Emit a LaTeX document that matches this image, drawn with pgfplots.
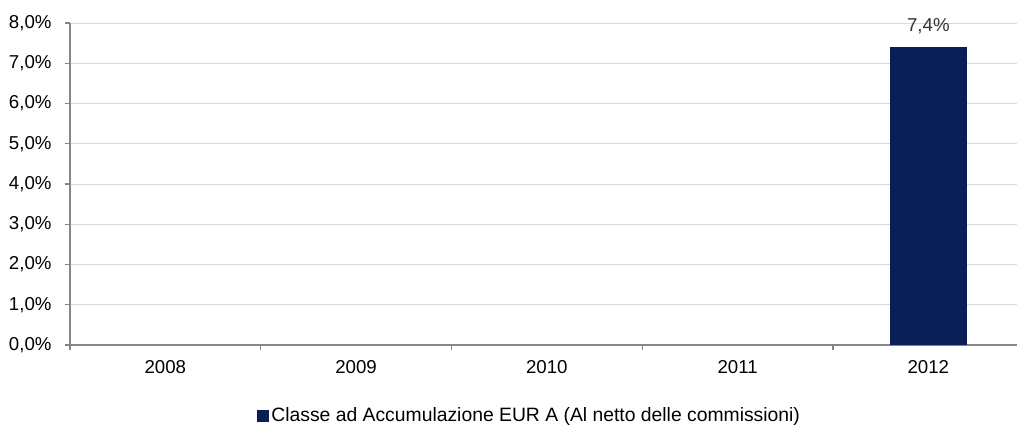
\documentclass[border=0pt]{standalone}
\usepackage{pgfplots}
\pgfplotsset{compat=1.18}
\usepackage{fontspec}
\setmainfont{Liberation Sans}
\definecolor{barblue}{HTML}{0A1F55}
\definecolor{axgrey}{HTML}{868686}
\definecolor{gridgrey}{HTML}{D9D9D9}
\begin{document}
\fontsize{14}{16}\selectfont
\begin{tikzpicture}
\path[use as bounding box] (0,0) rectangle (762.75pt,318.75pt);
\begin{axis}[
  at={(52.5pt,60pt)}, anchor=south west,
  scale only axis, width=715.3pt, height=241.5pt,
  xmin=-0.5, xmax=4.5, ymin=0, ymax=8,
  ytick={0,1,...,8},
  xtick={0,1,2,3,4},
  xticklabels={2008,2009,2010,2011,2012},
  minor xtick={-0.5,0.5,1.5,2.5,3.5,4.5},
  major x tick style={draw=none},
  minor x tick style={draw=axgrey, line width=0.8pt},
  y tick style={draw=axgrey, line width=0.8pt},
  tick align=outside,
  major tick length=4pt,
  minor tick length=4pt,
  axis x line*=bottom, axis y line*=left,
  axis line style={draw=axgrey, line width=1pt, -},
  ymajorgrids, grid style={draw=gridgrey, line width=0.6pt},
  /pgf/number format/assume math mode=true,
  yticklabel={\pgfmathprintnumber[fixed,fixed zerofill,precision=1,use comma,assume math mode=true]{\tick}\%},
  yticklabel style={font=\fontsize{14}{16}\selectfont, xshift=-5pt},
  xticklabel style={font=\fontsize{14}{16}\selectfont, yshift=-3pt},
  ybar, bar width=57.75pt,
  nodes near coords={\pgfmathprintnumber[fixed,fixed zerofill,precision=1,use comma,assume math mode=true]{\pgfplotspointmeta}\%},
  nodes near coords style={font=\fontsize{14}{16}\selectfont, text=black!80, anchor=south, yshift=5pt},
  legend style={at={(0.482,-0.22)}, anchor=center, draw=none, font=\fontsize{14.5}{17}\selectfont,
    legend cell align=left, inner sep=0pt},
  legend image code/.code={\fill[barblue] (0pt,-4.5pt) rectangle (9pt,4.5pt);},
]
\addplot[fill=barblue, draw=none] coordinates {(4,7.4)};
\addlegendentry{Classe ad Accumulazione EUR A (Al netto delle commissioni)}
\end{axis}
\end{tikzpicture}
\end{document}
